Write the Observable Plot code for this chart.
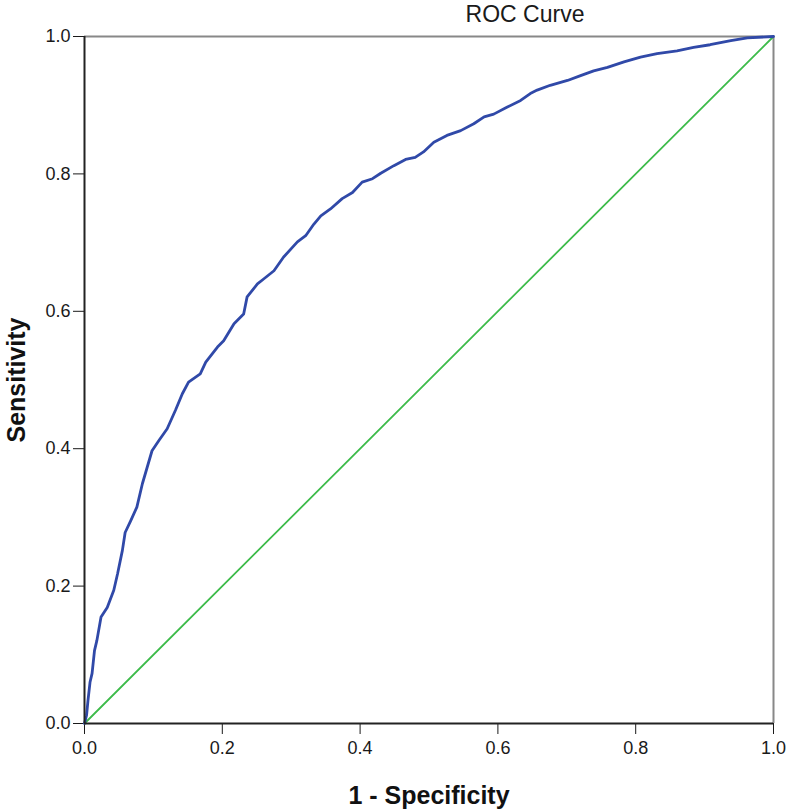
<!DOCTYPE html>
<html>
<head>
<meta charset="utf-8">
<script src="https://cdn.jsdelivr.net/npm/d3@7"></script>
<script src="https://cdn.jsdelivr.net/npm/@observablehq/plot@0.6"></script>
<style>
  body { margin: 0; background: #fff; }
  #chart { width: 787px; }
</style>
</head>
<body>
<div id="chart"></div>
<script>
const fpr = [0, 0.003, 0.005, 0.008, 0.011, 0.0145, 0.018, 0.024, 0.033, 0.0425,
  0.048, 0.055, 0.059, 0.067, 0.076, 0.084, 0.091, 0.098, 0.108, 0.12,
  0.132, 0.142, 0.151, 0.168, 0.176, 0.193, 0.202, 0.217, 0.231, 0.236,
  0.251, 0.26, 0.275, 0.289, 0.309, 0.321, 0.333, 0.343, 0.357, 0.374,
  0.389, 0.403, 0.418, 0.43, 0.449, 0.466, 0.48, 0.492, 0.507, 0.526,
  0.546, 0.565, 0.58, 0.594, 0.613, 0.633, 0.647, 0.657, 0.676, 0.701,
  0.72, 0.739, 0.759, 0.783, 0.807, 0.831, 0.86, 0.884, 0.908, 0.938,
  0.962, 1];
const tpr = [0, 0.012, 0.033, 0.06, 0.073, 0.106, 0.121, 0.155, 0.169, 0.194,
  0.218, 0.252, 0.278, 0.295, 0.315, 0.349, 0.373, 0.397, 0.412, 0.429,
  0.456, 0.48, 0.497, 0.509, 0.526, 0.548, 0.557, 0.582, 0.596, 0.621,
  0.64, 0.647, 0.659, 0.679, 0.701, 0.71, 0.727, 0.739, 0.749, 0.764,
  0.773, 0.788, 0.793, 0.801, 0.812, 0.821, 0.824, 0.832, 0.846, 0.856,
  0.863, 0.873, 0.883, 0.887, 0.897, 0.907, 0.917, 0.922, 0.929, 0.936,
  0.943, 0.95, 0.955, 0.963, 0.97, 0.975, 0.979, 0.984, 0.988, 0.994,
  0.998, 1];
const diagX = [0, 1];
const diagY = [0, 1];
const ticks = [0, 0.2, 0.4, 0.6, 0.8, 1.0];
const titleText = "ROC Curve";
const xLabel = "1 - Specificity";
const yLabel = "Sensitivity";

const roc = fpr.map((x, i) => ({x, y: tpr[i]}));
const diag = diagX.map((x, i) => ({x, y: diagY[i]}));

const plot = Plot.plot({
  width: 787,
  height: 812,
  marginLeft: 84,
  marginRight: 14,
  marginTop: 36,
  marginBottom: 89,
  style: {fontFamily: "'Liberation Sans', Arial, sans-serif", fontSize: "18px", color: "#1a1a1a", background: "#fff"},
  x: {domain: [0, 1], ticks: ticks, tickFormat: d3.format(".1f"), tickSize: 11, tickPadding: 7, label: null},
  y: {domain: [0, 1], ticks: ticks, tickFormat: d3.format(".1f"), tickSize: 11, tickPadding: 3, label: null},
  marks: [
    Plot.ruleY([1], {stroke: "#888", strokeWidth: 2}),
    Plot.ruleX([1], {stroke: "#888", strokeWidth: 2}),
    Plot.line(diag, {x: "x", y: "y", stroke: "#3dbb4a", strokeWidth: 1.8}),
    Plot.line(roc, {x: "x", y: "y", stroke: "#3049a8", strokeWidth: 2.8, strokeLinejoin: "round"}),
    Plot.ruleY([0], {stroke: "#222", strokeWidth: 2}),
    Plot.ruleX([0], {stroke: "#222", strokeWidth: 2}),
    Plot.text([titleText], {frameAnchor: "top", dx: 96, dy: -22, fontSize: 23, lineAnchor: "middle", textAnchor: "middle", fill: "#1a1a1a"}),
    Plot.text([xLabel], {frameAnchor: "bottom", dy: 72, fontSize: 25, fontWeight: "bold", lineAnchor: "middle", textAnchor: "middle", fill: "#111"}),
    Plot.text([yLabel], {frameAnchor: "left", dx: -68, rotate: -90, fontSize: 25, fontWeight: "bold", lineAnchor: "middle", textAnchor: "middle", fill: "#111"})
  ]
});
document.getElementById("chart").appendChild(plot);
</script>
</body>
</html>
